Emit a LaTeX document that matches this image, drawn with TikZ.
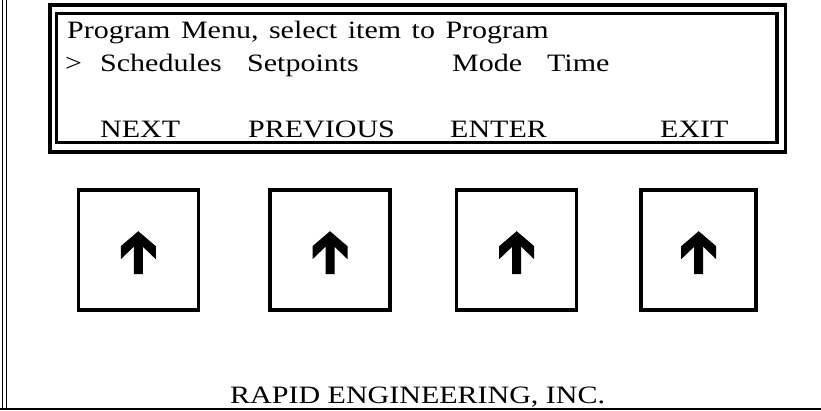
\documentclass[tikz,border=0pt]{standalone}
\usepackage{fontspec}
\usepackage{tikz}
\usetikzlibrary{positioning}
\newfontfamily\lcdfont{Liberation Serif}[FakeStretch=1.2]

\begin{document}
\begin{tikzpicture}[
    x=1pt, y=-1pt,
    lcd/.style={font=\lcdfont\fontsize{25}{25}\selectfont, inner sep=0pt, anchor=base west},
    keybox/.style={rectangle, draw, line width=3.5pt, minimum width=120pt, minimum height=120pt},
    frame/.style={draw, line width=3.8pt},
    uparrow/.pic={
        \fill (0,-19) -- (-17.5,-4) -- (-17.5,9) -- (-4.5,-3.5) -- (-4.5,24)
              -- (4.5,24) -- (4.5,-3.5) -- (17.5,9) -- (17.5,-4) -- cycle;
    }
]
    \useasboundingbox (0,0) rectangle (821,411);

    % Panel edge
    \draw[line width=1.6pt] (2.3,0) -- (2.3,409);
    \draw[line width=1.6pt] (6.6,0) -- (6.6,409);
    \draw[line width=2.6pt] (0,409) -- (821,409);

    % Display
    \draw[frame] (50,5.3) rectangle (785.5,152);
    \draw[frame] (56.5,13.5) rectangle (777,142.5);

    % Display text
    \node[lcd, execute at begin node={\spaceskip=10.5pt\relax}] (title) at (67,39)
        {Program Menu, select item to Program};
    \node[lcd] (cursor) at (65,72) {>};
    \node[lcd] (sched) at (100,72) {Schedules};
    \node[lcd] (setp) at (247,72) {Setpoints};
    \node[lcd] (mode) at (452,72) {Mode};
    \node[lcd] (time) at (547,72) {Time};

    \node[lcd] (next) at (100,137.5) {NEXT};
    \node[lcd] (prev) at (248,137.5) {PREVIOUS};
    \node[lcd] (enter) at (450,137.5) {ENTER};
    \node[lcd] (exit) at (660,137.5) {EXIT};

    % Keys
    \node[keybox] (btn1) at (138.3,250.2) {};
    \node[keybox] (btn2) at (330,250.2) {};
    \node[keybox] (btn3) at (516.7,250.2) {};
    \node[keybox, minimum width=115pt] (btn4) at (698.7,250.2) {};
    \foreach \k in {1,...,4}
        \pic at (btn\k.center) {uparrow};

    % Maker
    \node[lcd] (maker) at (230,403) {RAPID ENGINEERING, INC.};
\end{tikzpicture}
\end{document}
